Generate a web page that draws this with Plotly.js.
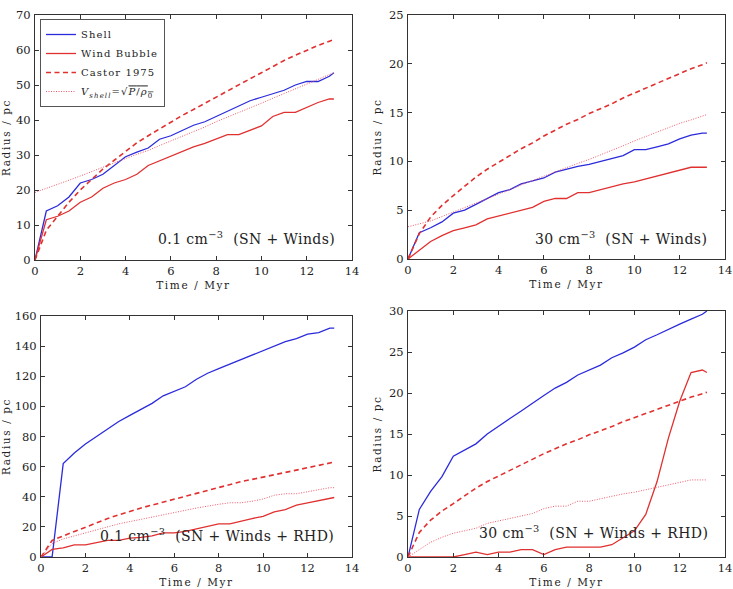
<!DOCTYPE html>
<html><head><meta charset="utf-8">
<script src="https://cdn.plot.ly/plotly-3.0.1.min.js"></script>
<style>body{margin:0;padding:0;background:#fff}#c{width:733px;height:589px}</style>
</head><body><div id="c"></div>
<script>
const time = [0,0.5,1,1.5,2,2.5,3,3.5,4,4.5,5,5.5,6,6.5,7,7.5,8,8.5,9,9.5,10,10.5,11,11.5,12,12.5,13,13.2];

// Panel 1: 0.1 cm^-3 (SN + Winds)
const p1Shell  = [0,14,15.5,18,22,23,24.5,27,29.5,30.8,32,34.5,35.5,37,38.5,39.5,41,42.5,44,45.5,46.5,47.5,48.5,50,51,51,52.5,53.5];
const p1Bubble = [0,11.5,12.5,14,16.5,18,20.5,22,23,24.5,27,28.3,29.5,31,32.3,33.3,34.5,35.8,35.8,37,38.3,41,42.2,42.2,43.5,45,46,46];
const p1Castor = [0,8.5,12.5,16.5,20,23,26,28.5,31,33.5,35.5,37.5,39.5,41.3,43,44.8,46.5,48.3,50,51.8,53.5,55.3,57,58.5,60,61.3,62.5,63];
const p1Vshell = [19.3,20.4,21.5,22.8,24,25.3,26.5,27.8,29,30.2,31.3,32.7,34,35.3,36.5,38,39.5,40.8,42,43.4,44.8,46.2,47.5,48.9,50.3,51.6,53,53.5];

// Panel 2: 30 cm^-3 (SN + Winds)
const p2Shell  = [0,2.7,3.2,3.8,4.7,5.0,5.6,6.2,6.8,7.1,7.7,8.0,8.3,8.9,9.2,9.5,9.7,10.0,10.3,10.6,11.2,11.2,11.5,11.8,12.3,12.7,12.9,12.9];
const p2Bubble = [0,0.9,1.8,2.4,2.9,3.2,3.5,4.1,4.4,4.7,5.0,5.3,5.9,6.2,6.2,6.8,6.8,7.1,7.4,7.7,7.9,8.2,8.5,8.8,9.1,9.4,9.4,9.4];
const p2Castor = [0,2.6,4.3,5.5,6.5,7.5,8.4,9.2,9.9,10.6,11.3,11.9,12.6,13.2,13.8,14.3,14.9,15.4,15.9,16.5,17.0,17.5,18.0,18.5,19.0,19.5,19.9,20.1];
const p2Vshell = [3.3,3.6,3.9,4.35,4.8,5.25,5.7,6.15,6.6,7.1,7.6,8.05,8.5,8.95,9.4,9.8,10.2,10.65,11.1,11.6,12.1,12.55,13.0,13.45,13.9,14.25,14.6,14.8];

// Panel 3: 0.1 cm^-3 (SN + Winds + RHD)
const p3Shell  = [0,0,62,69,75,80,85,90,94,98,102,107,110,113,118,122,125,128,131,134,137,140,143,145,148,149,152,152];
const p3Bubble = [0,5,6,8,8,9.5,11,11,12.5,13,14,16,16,17,18.5,20,22,22,24,25.5,27,30,31.5,34.5,36,37.5,39,39.5];
const p3Castor = [0,11,14,17,20,23,25.5,28,30.5,32.5,34.5,36.5,38.5,40.5,42.5,44.5,46.5,48,50,51.5,53,55,56.5,58,59.5,61,62.5,63];
const p3Vshell = [0,9,12,14,16,18,20,22,23.5,25,27,28.5,30,31,32.5,34,35,36,36,37,38.5,41,42,42,43.5,45,46,46];

// Panel 4: 30 cm^-3 (SN + Winds + RHD)
const p4Shell  = [0,5.8,8,9.8,12.3,13,13.8,15,16,16.9,17.8,18.8,19.7,20.6,21.3,22.2,22.8,23.4,24.3,24.9,25.6,26.5,27.1,27.8,28.4,29,29.6,30];
const p4Bubble = [0,0,0,0,0,0.3,0.6,0.3,0.6,0.6,0.9,0.9,0.3,0.9,1.2,1.2,1.2,1.2,1.5,2.4,3.2,5.2,9.2,14.5,19,22.5,22.8,22.5];
const p4Castor = [0,3,4.5,5.6,6.5,7.5,8.4,9.2,9.9,10.6,11.3,11.9,12.6,13.2,13.8,14.3,14.9,15.4,15.9,16.5,17.0,17.5,18.0,18.5,19.0,19.5,19.9,20.1];
const p4Vshell = [0,0.9,1.8,2.4,2.9,3.2,3.5,4.1,4.4,4.7,5.0,5.3,5.9,6.2,6.2,6.8,6.8,7.1,7.4,7.7,7.9,8.2,8.5,8.8,9.1,9.4,9.4,9.4];

const legendNames = ['Shell','Wind Bubble','Castor 1975',
  '<i>V</i><sub><i>shell</i></sub>=√<span style="text-decoration:overline"><i>P</i>/<i>ρ</i><sub>0</sub></span>'];
const panelLabels = ['0.1 cm<sup>−3</sup>  (SN + Winds)','30 cm<sup>−3</sup>  (SN + Winds)',
  '0.1 cm<sup>−3</sup>  (SN + Winds + RHD)','30 cm<sup>−3</sup>  (SN + Winds + RHD)'];
const yMax = [70,25,160,30];
const yStep = [10,5,20,5];

const BLUE = '#2b2bdc', RED = '#e0302f';
const panels = [
  [p1Shell,p1Bubble,p1Castor,p1Vshell],
  [p2Shell,p2Bubble,p2Castor,p2Vshell],
  [p3Shell,p3Bubble,p3Castor,p3Vshell],
  [p4Shell,p4Bubble,p4Castor,p4Vshell]
];
const styles = [
  {color:BLUE,width:1.3,dash:'solid'},
  {color:RED,width:1.3,dash:'solid'},
  {color:RED,width:1.6,dash:'5px,3.5px'},
  {color:'#ee5a6a',width:1,dash:'1px,1.5px'}
];
const FONT = 'DejaVu Serif, Liberation Serif, serif';
const traces = [];
panels.forEach((p,i)=>{
  const ax = i===0 ? '' : String(i+1);
  p.forEach((ser,j)=>{
    traces.push({x:time,y:ser,type:'scatter',mode:'lines',xaxis:'x'+ax,yaxis:'y'+ax,
      name:'<span style="letter-spacing:1.1px">'+legendNames[j]+'</span>',showlegend:i===0,
      line:Object.assign({},styles[j]),hoverinfo:'skip'});
  });
});

const W=733,H=589;
const dom = [
  {x:[35,352],y:[15,260]},
  {x:[408,725],y:[15,259]},
  {x:[41,352],y:[316,557]},
  {x:[408,725],y:[311,557]}
];
const sp = t => '<span style="letter-spacing:1.6px">'+t+'</span>';
const layout = {width:W,height:H,margin:{l:0,r:0,t:0,b:0},paper_bgcolor:'#fff',plot_bgcolor:'#fff',
  font:{family:FONT,size:11,color:'#222'},
  showlegend:true,
  legend:{x:40/W,y:1-19/H,xanchor:'left',yanchor:'top',bgcolor:'#fff',bordercolor:'#555',borderwidth:1,
    font:{family:FONT,size:10,color:'#222'},tracegroupgap:0,itemwidth:30},
  annotations:[]};
dom.forEach((d,i)=>{
  const ax = i===0 ? '' : String(i+1);
  layout['xaxis'+ax] = {domain:[d.x[0]/W,d.x[1]/W],anchor:'y'+ax,range:[0,14],dtick:2,tick0:0,
    ticks:'inside',ticklen:4,tickcolor:'#333',showline:true,linecolor:'#333',linewidth:1,mirror:'ticks',
    showgrid:false,zeroline:false,tickfont:{family:FONT,size:11.5,color:'#222'},
    title:{text:sp('Time / Myr'),font:{family:FONT,size:10.5,color:'#222'},standoff:4}};
  layout['yaxis'+ax] = {domain:[1-d.y[1]/H,1-d.y[0]/H],anchor:'x'+ax,range:[0,yMax[i]],dtick:yStep[i],tick0:0,
    ticks:'inside',ticklen:4,tickcolor:'#333',showline:true,linecolor:'#333',linewidth:1,mirror:'ticks',
    showgrid:false,zeroline:false,tickfont:{family:FONT,size:11.5,color:'#222'},ticklabelstandoff:1,
    title:{text:sp('Radius / pc'),font:{family:FONT,size:10.5,color:'#222'},standoff:5}};
});
const annPos = [[337,238],[709,238],[336,535],[710,532]];
annPos.forEach((p,i)=>{
  layout.annotations.push({xref:'paper',yref:'paper',x:p[0]/W,y:1-p[1]/H,xanchor:'right',yanchor:'middle',
    showarrow:false,text:'<span style="letter-spacing:0.4px">'+panelLabels[i]+'</span>',
    font:{family:FONT,size:14,color:'#222'}});
});
Plotly.newPlot('c',traces,layout,{staticPlot:true});
</script></body></html>
